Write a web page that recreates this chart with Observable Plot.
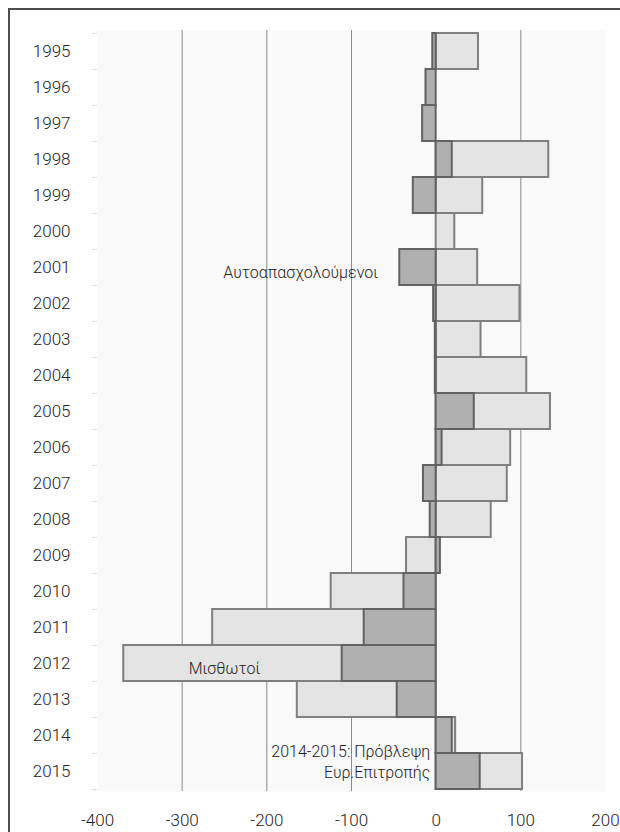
<!DOCTYPE html>
<html><head><meta charset="utf-8">
<script src="https://cdn.jsdelivr.net/npm/d3@7"></script>
<script src="https://cdn.jsdelivr.net/npm/@observablehq/plot@0.6"></script>
<style>
html,body{margin:0;padding:0;background:#fff;}
#wrap{position:relative;width:620px;height:832px;overflow:hidden;}
#chart{position:absolute;left:0;top:0;}
#chart svg text{font-weight:300;}
#border{position:absolute;left:8px;top:8px;width:700px;height:900px;border-left:2px solid #4d4d4d;border-top:2px solid #4d4d4d;pointer-events:none;}
</style></head><body>
<div id="wrap"><div id="chart"></div><div id="border"></div></div>
<script>
const years = ["1995","1996","1997","1998","1999","2000","2001","2002","2003","2004","2005","2006","2007","2008","2009","2010","2011","2012","2013","2014","2015"];
// Μισθωτοί (light bars)
const misthotoi = [50, 0, 0, 133, 55, 22, 49, 99, 53, 107, 135, 88, 84, 65, -35, -124, -264, -369, -164, 23, 102];
// Αυτοαπασχολούμενοι (dark bars)
const autoapasx = [-4, -12, -16, 19, -27, 0, -43, -3, -1, -1, 45, 7, -15, -7, 5, -38, -85, -111, -46, 19, 52];
const xTicks = [-400, -300, -200, -100, 0, 100, 200];
const gridTicks = [-300, -200, -100, 100];
const noteTexts = ["Αυτοαπασχολούμενοι", "Μισθωτοί", "2014-2015: Πρόβλεψη\nΕυρ.Επιτροπής"];
const noteX = [-160, -250, -7];
const noteY = ["2001", "2012", "2015"];

const W = 620, H = 832, mT = 30, mB = 41, mL = 97, mR = 15;
const bw = (H - mT - mB) / years.length;
const data = years.map((y, i) => ({year: y, m: misthotoi[i], a: autoapasx[i]}));
const notes = noteTexts.map((t, i) => ({text: t, x: noteX[i], y: noteY[i]}));

const chart = Plot.plot({
  width: W, height: H,
  marginLeft: mL, marginRight: mR, marginTop: mT, marginBottom: mB,
  style: {fontFamily: "Roboto, 'Liberation Sans', Arial, sans-serif", fontSize: "17px", color: "#222", background: "transparent"},
  x: {domain: [-400, 200]},
  y: {type: "band", domain: years, padding: 0},
  marks: [
    Plot.frame({fill: "#f9f9f9", stroke: null}),
    Plot.ruleX(gridTicks, {stroke: "#8a8a8a", strokeWidth: 1}),
    Plot.ruleY(years, {y: d => d, x1: -406, x2: -400, dy: -bw / 2, stroke: "#dcdcdc"}),
    Plot.ruleY([years[years.length - 1]], {y: d => d, x1: -406, x2: -400, dy: bw / 2, stroke: "#dcdcdc"}),
    Plot.barX(data, {x: "m", y: "year", fill: "#e4e4e4", stroke: "#7f7f7f", strokeWidth: 2}),
    Plot.barX(data, {x: "a", y: "year", fill: "#b0b0b0", stroke: "#626262", strokeWidth: 2}),
    Plot.axisX({ticks: xTicks, tickFormat: d => String(d), tickSize: 0, tickPadding: 22, fontSize: 17, label: null}),
    Plot.axisY({tickSize: 0, tickPadding: 27, fontSize: 17, label: null}),
    Plot.text(notes.slice(0, 2), {x: "x", y: "y", text: "text", fontSize: 16, textAnchor: "middle", dy: 5, fill: "#222"}),
    Plot.text(notes.slice(2), {x: "x", y: "y", text: "text", fontSize: 16, textAnchor: "end", dy: -11, lineHeight: 1.31, fill: "#222"})
  ]
});
document.getElementById("chart").appendChild(chart);
</script>
</body></html>
